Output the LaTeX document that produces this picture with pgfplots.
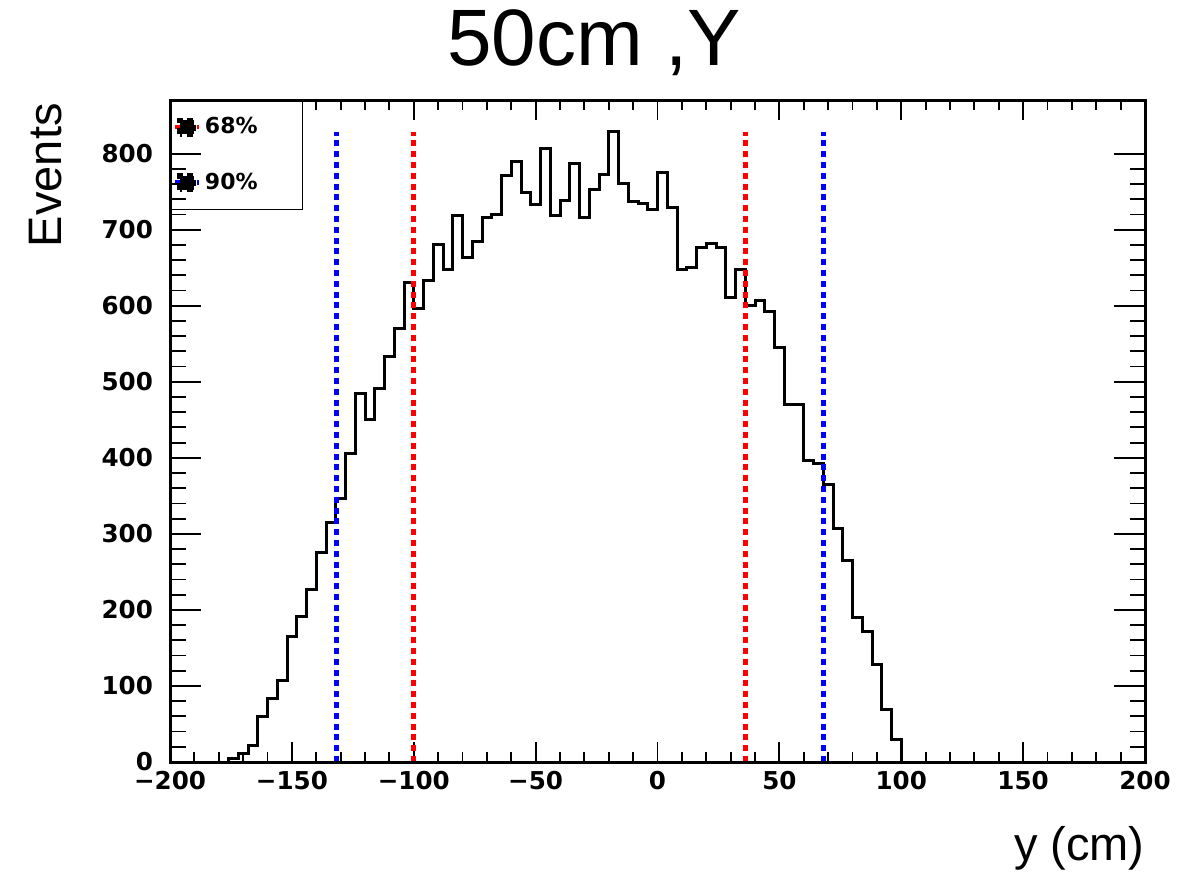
\documentclass[border=0pt]{standalone}
\usepackage{fontspec}
\setmainfont{Liberation Sans}
\newfontfamily\dejavu{DejaVu Sans}
\usepackage{pgfplots}
\pgfplotsset{compat=1.18}
\pgfplotstableread{
x y
-200 0
-196 0
-192 0
-188 0
-184 0
-180 0
-176 4
-172 11
-168 22
-164 60
-160 83
-156 107
-152 165
-148 191
-144 227
-140 275
-136 315
-132 346
-128 406
-124 484
-120 450
-116 491
-112 533
-108 570
-104 630
-100 597
-96 633
-92 680
-88 647
-84 719
-80 664
-76 685
-72 716
-68 720
-64 771
-60 790
-56 749
-52 733
-48 807
-44 718
-40 738
-36 787
-32 716
-28 753
-24 772
-20 829
-16 761
-12 737
-8 735
-4 727
0 775
4 729
8 647
12 650
16 677
20 682
24 677
28 611
32 647
36 600
40 607
44 592
48 545
52 470
56 470
60 396
64 393
68 365
72 307
76 265
80 190
84 171
88 128
92 69
96 29
100 0
104 0
200 0
}\histdata
\begin{document}
\begin{tikzpicture}[x=1pt,y=1pt]
\useasboundingbox (0,0) rectangle (594.5,437);
% axis with data and x ticks
\begin{axis}[
  at={(85pt,56pt)}, anchor=south west,
  scale only axis, width=487.5pt, height=331pt,
  xmin=-200, xmax=200, ymin=0, ymax=870.5,
  axis line style={line width=1.5pt},
  tick align=inside, xtick pos=both,
  xtick={-200,-150,-100,-50,0,50,100,150,200},
  xticklabels={−200,−150,−100,−50,0,50,100,150,200},
  minor x tick num=4,
  ytick=\empty,
  major tick length=10pt, minor tick length=5pt,
  every tick/.style={black, line width=0.9pt},
  tick label style={font=\dejavu\bfseries\fontsize{12.3}{14}\selectfont},
  xticklabel style={yshift=-1pt},
  legend style={at={(rel axis cs:0,1)}, anchor=north west, draw=black,
    line width=0.6pt, fill=white,
    font=\dejavu\bfseries\fontsize{11}{11}\selectfont,
    inner xsep=1pt, inner ysep=6.5pt, row sep=14pt},
  legend cell align=left,
  legend image code/.code={
    \draw[#1, solid, line width=2.2pt] (0pt,0pt) -- (3pt,0pt);
    \draw[#1, solid, line width=2.2pt] (11pt,0pt) -- (12pt,0pt);
    \fill[black] (2.5pt,-3.5pt) rectangle (9.5pt,3.5pt);
  },
]
\addplot[const plot, black, line width=1.5pt, forget plot] table[x=x,y=y]{\histdata};
\addplot[red, line width=2.5pt, dash pattern=on 3pt off 2.4pt] coordinates {(-100.2,0) (-100.2,829)};
\addlegendentry{68\%\hspace*{19.5pt}}
\addplot[red, line width=2.5pt, dash pattern=on 3pt off 2.4pt, forget plot] coordinates {(36.0,0) (36.0,829)};
\addplot[blue, line width=2.5pt, dash pattern=on 3pt off 2.4pt] coordinates {(-131.6,0) (-131.6,829)};
\addlegendentry{90\%\hspace*{19.5pt}}
\addplot[blue, line width=2.5pt, dash pattern=on 3pt off 2.4pt, forget plot] coordinates {(68.3,0) (68.3,829)};
\end{axis}
% axis with y ticks
\begin{axis}[
  at={(85pt,56pt)}, anchor=south west,
  scale only axis, width=487.5pt, height=331pt,
  xmin=-200, xmax=200, ymin=0, ymax=870.5,
  axis line style={line width=1.5pt},
  tick align=inside, ytick pos=both,
  xtick=\empty,
  ytick={0,100,200,300,400,500,600,700,800},
  yticklabels={0,100,200,300,400,500,600,700,800},
  minor y tick num=4,
  major tick length=15.5pt, minor tick length=7.75pt,
  every tick/.style={black, line width=0.9pt},
  tick label style={font=\dejavu\bfseries\fontsize{12.3}{14}\selectfont},
  yticklabel style={xshift=-5pt},
]
\end{axis}
\node[anchor=base, inner sep=0, font=\fontsize{40}{42}\selectfont] at (297,404) {50cm ,Y};
\node[anchor=base east, inner sep=0, font=\fontsize{23.5}{25}\selectfont] at (572.5,7) {y (cm)};
\node[rotate=90, anchor=base east, inner sep=0, font=\fontsize{23.5}{25}\selectfont] at (31,385.5) {Events};
\end{tikzpicture}
\end{document}
